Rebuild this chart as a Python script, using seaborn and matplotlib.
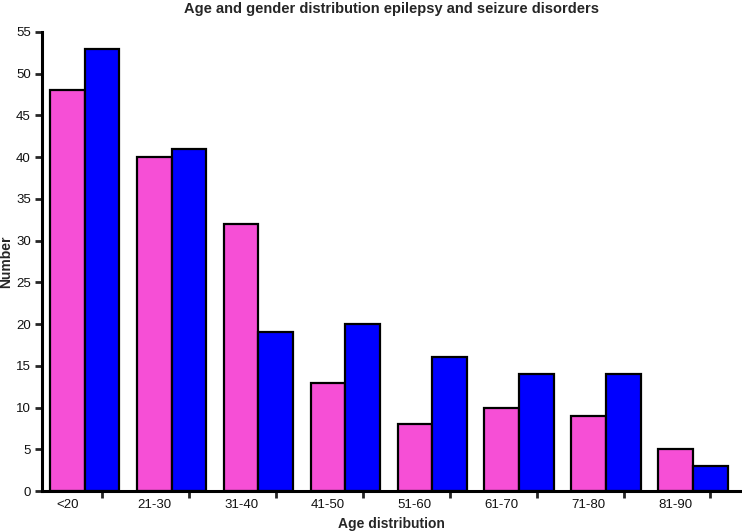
import numpy as np
import pandas as pd
import matplotlib
matplotlib.use('Agg')
import matplotlib.pyplot as plt
import seaborn as sns

# data
age_groups = ['<20', '21-30', '31-40', '41-50', '51-60', '61-70', '71-80', '81-90']
female = [48, 40, 32, 13, 8, 10, 9, 5]
male = [53, 41, 19, 20, 16, 14, 14, 3]

df = pd.DataFrame({'Age': age_groups * 2,
                   'Number': female + male,
                   'Gender': ['Female'] * len(age_groups) + ['Male'] * len(age_groups)})

sns.set_style('ticks')
plt.rcParams['font.family'] = ['Liberation Sans', 'DejaVu Sans']

fig = plt.figure(figsize=(7.42, 5.32), dpi=100)
ax = fig.add_axes([42 / 742, 41 / 532, 698 / 742, 459 / 532])

sns.barplot(data=df, x='Age', y='Number', hue='Gender', order=age_groups,
            palette={'Female': '#F64FD6', 'Male': '#0000FF'}, width=0.8,
            edgecolor='black', linewidth=1.6, saturation=1, ax=ax, legend=False)

pos = np.arange(len(age_groups))
ax.set_xticks(pos - 0.2)
ax.set_xticklabels(age_groups, fontsize=9.5, color='#111111')
ax.set_xticks(pos + 0.2, minor=True)
ax.tick_params(axis='x', which='major', length=0, pad=6)
ax.tick_params(axis='x', which='minor', length=5, width=2, direction='out')
ax.set_xlim(-0.49, 7.54)

ax.set_ylim(0, 55)
ax.set_yticks(range(0, 56, 5))
ax.tick_params(axis='y', length=5, width=2, labelsize=9.5, pad=3, labelcolor='#111111')

sns.despine(ax=ax)
for s in ['left', 'bottom']:
    ax.spines[s].set_linewidth(2.2)
    ax.spines[s].set_color('black')

ax.set_title('Age and gender distribution epilepsy and seizure disorders',
             fontsize=10.5, fontweight='bold', pad=14)
ax.set_xlabel('Age distribution', fontsize=10, fontweight='bold')
ax.set_ylabel('Number', fontsize=10, fontweight='bold')
ax.yaxis.set_label_coords(-0.041, 0.5)
ax.xaxis.set_label_coords(0.5, -0.057)

fig.savefig('out.png', dpi=100)
